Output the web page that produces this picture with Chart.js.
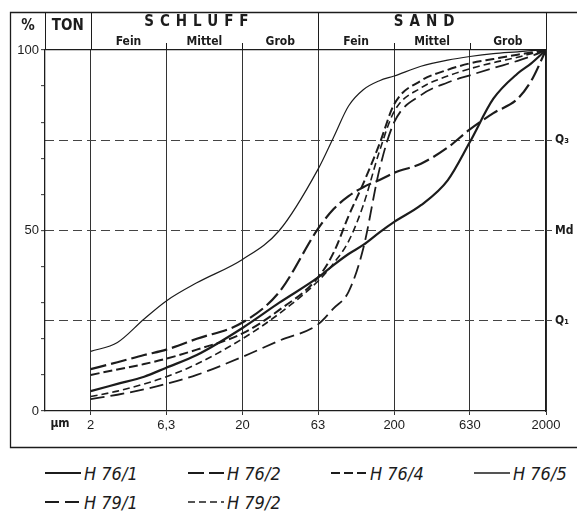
<!DOCTYPE html>
<html lang="de">
<head>
<meta charset="utf-8">
<title>Kornsummenkurven</title>
<script src="https://cdn.jsdelivr.net/npm/chart.js@4.4.1/dist/chart.umd.min.js"></script>
<style>
  html, body { margin: 0; padding: 0; background: #fff; }
  #wrap { position: relative; width: 577px; height: 518px; overflow: hidden; }
  #plot { position: absolute; left: 0; top: 0; }
  .item {
    position: absolute; display: flex; align-items: center; height: 24px;
    font: italic 18px "Liberation Sans Narrow", "DejaVu Sans Condensed", sans-serif;
    color: #1c1c1c; white-space: nowrap;
  }
  .item svg { margin-right: 3px; }
</style>
</head>
<body>
<div id="wrap">
  <canvas id="plot" width="577" height="460"></canvas>
  <div id="legend"></div>
</div>
<script>
// grain size in µm and cumulative passing in %
const sizes = [2, 3, 4.5, 6.3, 10, 20, 35, 63, 80, 100, 125, 160, 200, 300, 450, 630, 900, 1300, 1600, 2000];
const h76_1 = [5.5, 7.5, 9.5, 12, 15.5, 23, 30, 37, 40.5, 43.5, 46, 49.5, 52.4, 57, 63.9, 74.5, 86.5, 93.5, 96.3, 100];
const h76_2 = [11.6, 13.5, 15.5, 17, 20, 24.5, 33, 50.5, 56, 59.5, 62, 64, 66, 68.5, 73, 78, 82.5, 86.5, 91.5, 100];
const h76_4 = [10, 11.5, 13, 14.5, 17, 21.5, 28, 37, 44, 54, 63, 74, 85, 91.5, 94.5, 96.3, 97.5, 98.7, 99.3, 100];
const h76_5 = [16.5, 19, 25.5, 30.5, 35.5, 42, 50, 67, 76, 84.5, 89, 91.5, 92.8, 95.5, 97.2, 98.2, 99, 99.5, 99.8, 100];
const h79_1 = [3.3, 4.5, 6, 7.5, 10, 15, 19.5, 24, 28.5, 33, 45, 67, 80, 87.5, 91, 93, 95, 97, 98.3, 100];
const h79_2 = [4, 5.5, 7.5, 9.5, 13, 20, 27, 36, 41, 47, 57, 72, 83, 89.5, 92.8, 94.8, 96.5, 98, 99, 100];

const sampleNames = ['H 76/1', 'H 76/2', 'H 76/4', 'H 76/5', 'H 79/1', 'H 79/2'];
const seriesValues = [h76_1, h76_2, h76_4, h76_5, h79_1, h79_2];

const sizeTicks = [2, 6.3, 20, 63, 200, 630, 2000];
const sizeTickLabels = ['2', '6,3', '20', '63', '200', '630', '2000'];
const pctTicks = [0, 10, 20, 30, 40, 50, 60, 70, 80, 90, 100];
const pctLabels = ['0', '', '', '', '', '50', '', '', '', '', '100'];
const quartileTicks = [25, 50, 75];
const quartileLabels = ['Q\u2081', 'Md', 'Q\u2083'];

// header: fractions and their sub-classes (Fein / Mittel / Grob)
const fractionNames = ['SCHLUFF', 'SAND'];
const fractionEdges = [2, 63, 2000];
const classNames = ['Fein', 'Mittel', 'Grob', 'Fein', 'Mittel', 'Grob'];

const INK = '#1c1c1c';
const NARROW = '"Liberation Sans Narrow", "DejaVu Sans Condensed", "Liberation Sans", sans-serif';
const PLAIN = '"Liberation Sans", Arial, sans-serif';

const lineStyles = [
  { width: 2.2, dash: [] },
  { width: 2.2, dash: [16, 5] },
  { width: 2, dash: [9, 4] },
  { width: 1.2, dash: [] },
  { width: 1.8, dash: [14, 6] },
  { width: 1.6, dash: [7, 4] },
];

const datasets = sampleNames.map((name, i) => ({
  label: name,
  data: sizes.map((s, j) => ({ x: s, y: seriesValues[i][j] })),
  borderColor: INK,
  borderWidth: lineStyles[i].width,
  borderDash: lineStyles[i].dash,
  pointRadius: 0,
  fill: false,
  cubicInterpolationMode: 'monotone',
}));

// outer frame, header cells and their captions
const frameAndHeader = {
  id: 'frameAndHeader',
  afterDraw(chart) {
    const { ctx, chartArea: area, scales: { x } } = chart;
    const top = 12, bottom = 447, left = 10, right = chart.width;
    const px = v => Math.round(x.getPixelForValue(v)) + 0.5;
    ctx.save();
    ctx.strokeStyle = INK;
    ctx.lineWidth = 1.3;
    ctx.beginPath();
    ctx.moveTo(right, top + 0.5);
    ctx.lineTo(left + 0.5, top + 0.5);
    ctx.lineTo(left + 0.5, bottom + 0.5);
    ctx.lineTo(right, bottom + 0.5);
    ctx.stroke();

    ctx.lineWidth = 1;
    ctx.beginPath();
    [Math.round(area.left) + 0.5, ...fractionEdges.map(px)].forEach(cx => {
      ctx.moveTo(cx, top);
      ctx.lineTo(cx, area.top);
    });
    sizeTicks.filter(v => !fractionEdges.includes(v)).forEach(v => {
      ctx.moveTo(px(v), 43);
      ctx.lineTo(px(v), area.top);
    });
    ctx.stroke();

    ctx.fillStyle = INK;
    ctx.textAlign = 'center';
    ctx.textBaseline = 'middle';
    ctx.font = 'bold 15px ' + NARROW;
    ctx.fillText('%', 28, 26);
    ctx.fillText('TON', (area.left + x.getPixelForValue(2)) / 2, 26);

    ctx.font = 'bold 15px ' + NARROW;
    ctx.letterSpacing = '6px';
    fractionNames.forEach((name, i) => {
      const cx = (x.getPixelForValue(fractionEdges[i]) + x.getPixelForValue(fractionEdges[i + 1])) / 2;
      ctx.fillText(name, cx - 5, 22);
    });
    ctx.letterSpacing = '0px';

    ctx.font = 'bold 12px ' + NARROW;
    classNames.forEach((name, i) => {
      const cx = (x.getPixelForValue(sizeTicks[i]) + x.getPixelForValue(sizeTicks[i + 1])) / 2;
      ctx.fillText(name, cx, 42);
    });

    ctx.font = 'bold 12px ' + NARROW;
    ctx.fillText('µm', 60, 424);
    ctx.restore();
  },
};

new Chart(document.getElementById('plot'), {
  type: 'line',
  data: { datasets },
  options: {
    responsive: false,
    animation: false,
    layout: { padding: { left: 10, top: 50, right: 0, bottom: 13 } },
    plugins: { legend: { display: false }, tooltip: { enabled: false } },
    scales: {
      x: {
        type: 'logarithmic',
        min: 1,
        max: 2000,
        afterBuildTicks: s => { s.ticks = sizeTicks.map(v => ({ value: v })); },
        afterFit: s => { s.height = 36; },
        ticks: {
          autoSkip: false,
          maxRotation: 0,
          padding: 3,
          color: INK,
          font: { family: PLAIN, size: 13 },
          callback: (v, i) => sizeTickLabels[i],
        },
        grid: { color: '#333', lineWidth: 1, tickLength: 4, tickColor: '#333' },
        border: { color: INK, width: 1.3 },
      },
      y: {
        min: 0,
        max: 100,
        afterBuildTicks: s => { s.ticks = pctTicks.map(v => ({ value: v })); },
        afterFit: s => { s.width = 35; },
        ticks: {
          autoSkip: false,
          padding: 2,
          color: INK,
          font: { family: PLAIN, size: 13 },
          callback: (v, i) => pctLabels[i],
        },
        grid: {
          color: c => (c.tick && c.tick.value === 100 ? INK : 'transparent'),
          lineWidth: 1.3,
          tickLength: 4,
          tickColor: '#333',
          tickWidth: 1,
        },
        border: { color: INK, width: 1.3 },
      },
      q: {
        position: 'right',
        min: 0,
        max: 100,
        afterBuildTicks: s => { s.ticks = quartileTicks.map(v => ({ value: v })); },
        afterFit: s => { s.width = 31; },
        ticks: {
          autoSkip: false,
          padding: 3,
          color: INK,
          font: { family: NARROW, size: 12, weight: 'bold' },
          callback: (v, i) => quartileLabels[i],
        },
        grid: { color: '#444', lineWidth: 1, tickLength: 6, tickColor: '#444' },
        border: { color: INK, width: 1.3, dash: [9, 5] },
      },
    },
  },
  plugins: [frameAndHeader],
});

// legend rows under the frame
const legendCols = [45, 188, 331, 474];
const legendRows = [461, 490];
const legend = document.getElementById('legend');
sampleNames.forEach((name, i) => {
  const item = document.createElement('div');
  item.className = 'item';
  item.style.left = legendCols[i % 4] + 'px';
  item.style.top = legendRows[Math.floor(i / 4)] + 'px';
  const st = lineStyles[i];
  item.innerHTML =
    '<svg width="36" height="6"><line x1="0" y1="3" x2="36" y2="3" stroke="' + INK +
    '" stroke-width="' + Math.max(st.width, 1.6) + '" stroke-dasharray="' + st.dash.join(' ') + '"/></svg>';
  item.appendChild(document.createTextNode(name));
  legend.appendChild(item);
});
</script>
</body>
</html>
